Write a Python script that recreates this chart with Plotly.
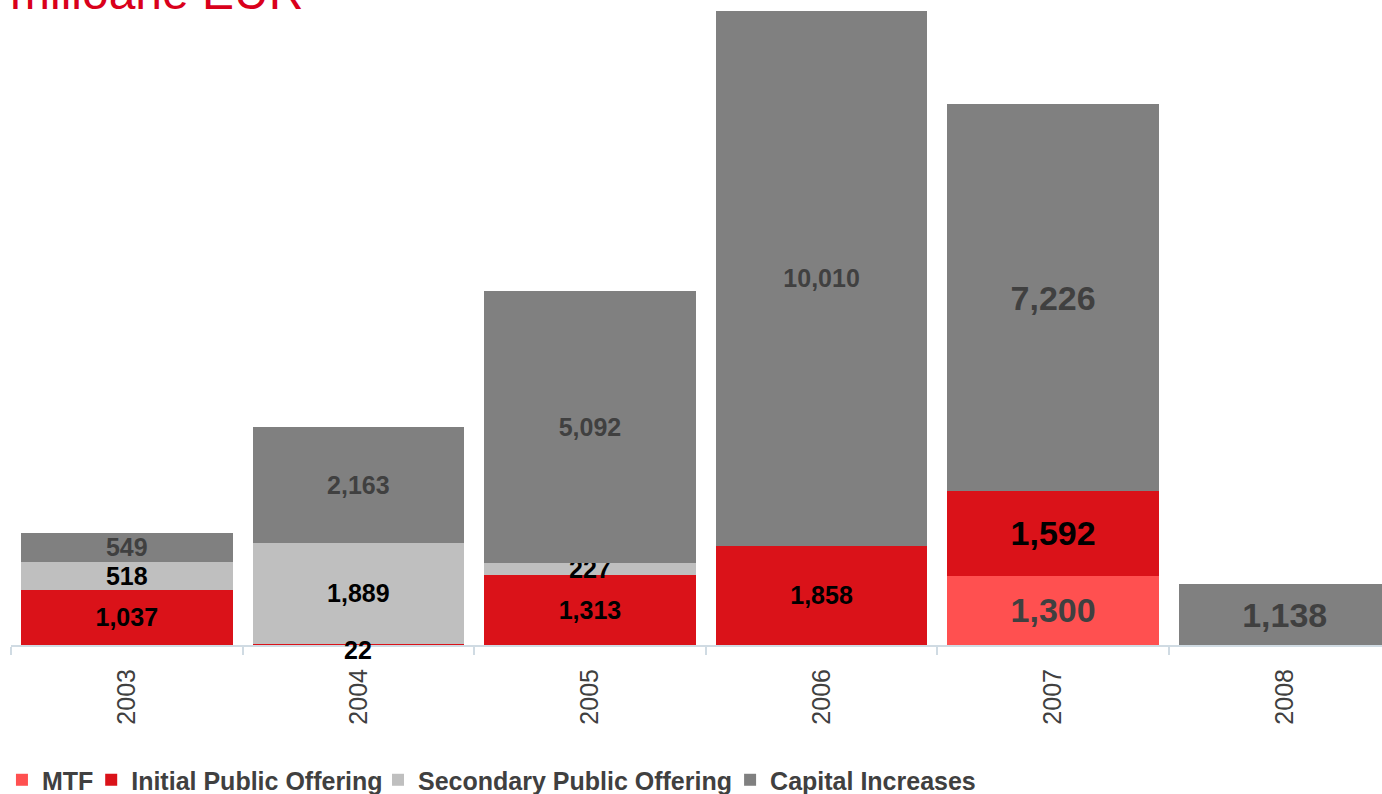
import plotly.graph_objects as go

years = ["2003", "2004", "2005", "2006", "2007", "2008"]
mtf = [None, None, None, None, 1300, None]
ipo = [1037, 22, 1313, 1858, 1592, None]
spo = [518, 1889, 227, None, None, None]
cap = [549, 2163, 5092, 10010, 7226, 1138]

series_names = ["MTF", "Initial Public Offering", "Secondary Public Offering", "Capital Increases"]
colors = ["#FF5050", "#DA1219", "#BFBFBF", "#808080"]
label_colors = ["#404040", "#000000", "#000000", "#404040"]
label_sizes = [25, 25, 25, 25, 34, 34]
legend_x = [-0.0066, 0.0585, 0.2677, 0.5245]

FONT = "Arial, Liberation Sans, sans-serif"

fig = go.Figure()
legend_ids = ["legend", "legend2", "legend3", "legend4"]
for name, vals, col, lcol, lid in zip(series_names, [mtf, ipo, spo, cap], colors, label_colors, legend_ids):
    texts = []
    for yr, v in zip(years, vals):
        if v is None or (name == "Initial Public Offering" and v < 100):
            texts.append("")
        else:
            texts.append(f"{v:,}")
    fig.add_trace(go.Bar(
        x=years, y=vals, name=name, marker=dict(color=col, line=dict(width=0)),
        text=texts, textposition="inside", insidetextanchor="middle",
        textangle=0, constraintext="none", legend=lid,
        textfont=dict(family=FONT, size=label_sizes, color=lcol, weight="bold"),
        hoverinfo="x+y+name",
    ))

# small IPO value in 2004 labelled just under its (very thin) bar
for i, v in enumerate(ipo):
    if v is not None and v < 100:
        fig.add_annotation(x=i, y=0, xref="x", yref="y", text=f"{v:,}",
                           showarrow=False, yanchor="middle", yshift=-5,
                           font=dict(family=FONT, size=25, color="#000000", weight="bold"))

fig.add_annotation(x=0, y=1, xref="paper", yref="paper", text="milioane EUR",
                   showarrow=False, xanchor="left", yanchor="middle", yshift=8, xshift=-3,
                   font=dict(family=FONT, size=48, color="#D9001B"))

legend_style = dict(orientation="h", xanchor="left", yref="container", y=0.0176, yanchor="middle",
                    font=dict(family=FONT, size=25, color="#404040", weight="bold"),
                    itemwidth=30, bgcolor="rgba(0,0,0,0)")
legends = {lid: dict(legend_style, x=lx) for lid, lx in zip(legend_ids, legend_x)}

fig.update_layout(
    width=1382, height=794,
    barmode="stack", bargap=0.087,
    margin=dict(l=11, r=0, t=0, b=149),
    paper_bgcolor="white", plot_bgcolor="white",
    showlegend=True,
    xaxis=dict(type="category", range=[-0.5, 5.42], showgrid=False,
               showline=True, linecolor="#D0DBE3", linewidth=2,
               ticks="outside", tickson="boundaries", ticklen=8, tickcolor="#D0DBE3", tickwidth=2,
               ticklabelstandoff=12,
               tickangle=-90, tickfont=dict(family=FONT, size=25, color="#404040")),
    yaxis=dict(range=[0, 12074], visible=False, showgrid=False, zeroline=False),
    **legends,
)

fig.write_html("out.html", config={"displayModeBar": False},
               post_script="document.body.style.margin='0';")
